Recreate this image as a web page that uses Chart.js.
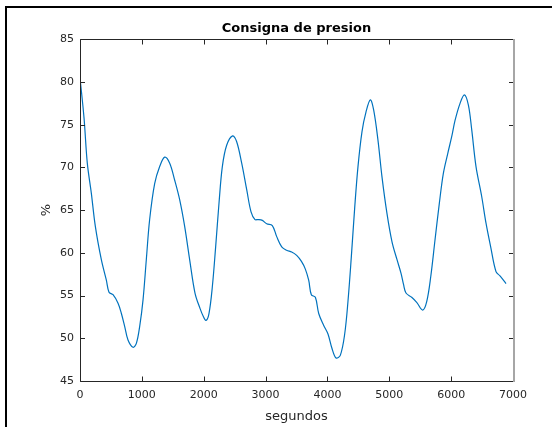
<!DOCTYPE html>
<html>
<head>
<meta charset="utf-8">
<script src="https://cdn.jsdelivr.net/npm/chart.js@4/dist/chart.umd.min.js"></script>
<style>
  html, body { margin: 0; padding: 0; background: #fff; }
  #wrap { position: relative; width: 552px; height: 427px; overflow: hidden; }
  #frame { position: absolute; left: 5px; top: 6px; right: 0; bottom: 0;
           border-left: 2px solid #000; border-top: 2px solid #000; pointer-events: none; }
  canvas { position: absolute; left: 0; top: 0; }
</style>
</head>
<body>
<div id="wrap">
  <canvas id="c" width="552" height="427"></canvas>
  <div id="frame"></div>
</div>
<script>
// Pressure set-point over time
const seconds = [
  0, 65, 118, 183, 248, 345, 426, 469, 534, 615, 669, 722, 776, 857, 911, 965,
  1019, 1072, 1126, 1207, 1288, 1369, 1450, 1531, 1612, 1692, 1775, 1859, 1940,
  1994, 2037, 2085, 2139, 2193, 2247, 2301, 2371, 2468, 2533, 2614, 2695, 2765,
  2829, 2883, 2948, 3018, 3109, 3180, 3261, 3341, 3422, 3503, 3580, 3643, 3697,
  3740, 3805, 3859, 3940, 4009, 4074, 4139, 4208, 4279, 4333, 4386, 4441, 4494,
  4559, 4624, 4694, 4748, 4817, 4882, 4963, 5044, 5125, 5190, 5230, 5270, 5362,
  5443, 5540, 5605, 5670, 5739, 5809, 5874, 5944, 6009, 6063, 6144, 6214, 6279,
  6333, 6402, 6494, 6563, 6639, 6725, 6790, 6887
];
const pressure = [
  80.5, 75.8, 70.5, 67.0, 63.1, 59.2, 56.8, 55.4, 55.1, 54.1, 52.9, 51.4, 49.8, 48.95, 49.4, 51.4,
  54.5, 59.2, 63.9, 68.1, 70.1, 71.2, 70.5, 68.5, 66.2, 63.1, 59.1, 55.3, 53.5,
  52.55, 52.1, 52.9, 56.0, 60.7, 65.8, 70.1, 72.6, 73.7, 73.0, 70.5, 67.4, 64.8,
  63.9, 63.9, 63.8, 63.4, 63.2, 61.9, 60.7, 60.3, 60.1, 59.7, 59.0, 58.1, 56.8,
  55.1, 54.8, 52.9, 51.5, 50.5, 48.8, 47.7, 48.0, 50.5, 54.4, 59.5, 65.3, 70.1,
  74.2, 76.5, 77.9, 76.7, 73.2, 68.9, 64.6, 61.3, 59.2, 57.6, 56.3, 55.3, 54.8,
  54.2, 53.3, 54.3, 57.2, 61.5, 65.8, 69.3, 71.6, 73.6, 75.5, 77.5, 78.5, 77.3,
  74.4, 70.1, 66.6, 63.5, 60.7, 57.8, 57.3, 56.4
];

const xTicks = [0, 1000, 2000, 3000, 4000, 5000, 6000, 7000];
const yTicks = [45, 50, 55, 60, 65, 70, 75, 80, 85];

const titleText = 'Consigna de presion';
const xLabel = 'segundos';
const yLabel = '%';

const FONT = "'DejaVu Sans', 'Liberation Sans', Arial, sans-serif";
const AXIS_COLOR = '#262626';

// Box around the plot area with inward tick marks on all four sides
const axesBox = {
  id: 'axesBox',
  afterDatasetsDraw(chart) {
    const { ctx, chartArea: a, scales } = chart;
    const L = Math.round(a.left) + 0.5, R = Math.round(a.right) + 0.5;
    const T = Math.round(a.top) + 0.5, B = Math.round(a.bottom) + 0.5;
    ctx.save();
    ctx.lineWidth = 1;
    ctx.strokeStyle = AXIS_COLOR;
    ctx.beginPath();
    ctx.moveTo(R, T); ctx.lineTo(L, T); ctx.lineTo(L, B); ctx.lineTo(R, B);
    xTicks.forEach(v => {
      const px = Math.round(scales.x.getPixelForValue(v)) + 0.5;
      ctx.moveTo(px, B); ctx.lineTo(px, B - 5);
      ctx.moveTo(px, T); ctx.lineTo(px, T + 5);
    });
    yTicks.forEach(v => {
      const py = Math.round(scales.y.getPixelForValue(v)) + 0.5;
      ctx.moveTo(L, py); ctx.lineTo(L + 4.5, py);
      ctx.moveTo(R, py); ctx.lineTo(R - 4.5, py);
    });
    ctx.stroke();
    ctx.strokeStyle = '#a6a6a6';
    ctx.lineWidth = 2;
    ctx.beginPath();
    ctx.moveTo(R + 0.5, T - 0.5); ctx.lineTo(R + 0.5, B + 0.5);
    ctx.stroke();
    ctx.restore();
  }
};

new Chart(document.getElementById('c'), {
  type: 'line',
  data: {
    datasets: [{
      data: seconds.map((s, i) => ({ x: s, y: pressure[i] })),
      borderColor: '#0072BD',
      borderWidth: 1.2,
      pointRadius: 0,
      fill: false,
      tension: 0.35
    }]
  },
  options: {
    responsive: false,
    animation: false,
    devicePixelRatio: 1,
    layout: { padding: { left: 0, right: 39, top: 0, bottom: 0 } },
    plugins: {
      legend: { display: false },
      tooltip: { enabled: false },
      title: {
        display: true,
        text: titleText,
        fullSize: false,
        color: '#000',
        font: { family: FONT, size: 13, weight: 'bold', lineHeight: 1.2 },
        padding: { top: 21, bottom: 2.7 }
      }
    },
    scales: {
      x: {
        type: 'linear',
        min: 0, max: 7000,
        afterBuildTicks: s => { s.ticks = xTicks.map(v => ({ value: v })); },
        afterFit: s => { s.height = 46; },
        grid: { display: false, drawTicks: false },
        border: { display: false },
        ticks: { color: AXIS_COLOR, font: { family: FONT, size: 11 }, padding: 8,
                 maxRotation: 0, callback: v => String(v) },
        title: { display: true, text: xLabel, color: AXIS_COLOR,
                 font: { family: FONT, size: 13 }, padding: { top: 0, bottom: 2.2 } }
      },
      y: {
        type: 'linear',
        min: 45, max: 85,
        afterBuildTicks: s => { s.ticks = yTicks.map(v => ({ value: v })); },
        afterFit: s => { s.width = 80; },
        grid: { display: false, drawTicks: false },
        border: { display: false },
        ticks: { color: AXIS_COLOR, font: { family: FONT, size: 11 }, padding: 6,
                 callback: v => String(v) },
        title: { display: true, text: yLabel, color: AXIS_COLOR,
                 font: { family: FONT, size: 13 }, padding: { top: 38.5, bottom: 0 } }
      }
    }
  },
  plugins: [axesBox]
});
</script>
</body>
</html>
